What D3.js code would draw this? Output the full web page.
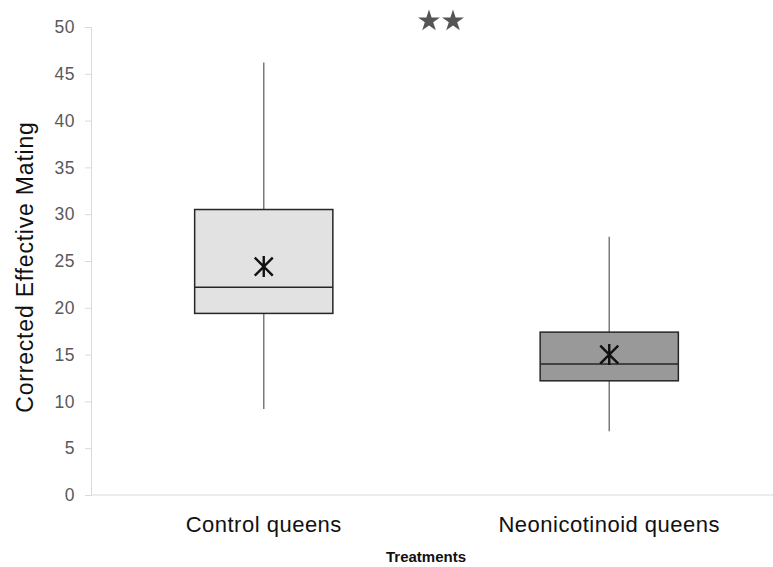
<!DOCTYPE html>
<html><head><meta charset="utf-8">
<script src="https://cdn.jsdelivr.net/npm/d3@7"></script>
<style>body{margin:0;background:#fff}svg{display:block}text{font-family:"Liberation Sans",Arial,sans-serif}</style>
</head><body>
<script>
const categories = ["Control queens", "Neonicotinoid queens"];
const whiskerLow = [9.2, 6.8];
const q1 = [19.4, 12.2];
const medians = [22.2, 14.0];
const q3 = [30.5, 17.4];
const whiskerHigh = [46.2, 27.6];
const means = [24.4, 15.0];
const fills = ["#e2e2e2", "#999999"];
const yTicks = [0,5,10,15,20,25,30,35,40,45,50];

const W = 773, H = 567;
const svg = d3.select("body").append("svg").attr("width", W).attr("height", H);
const y = d3.scaleLinear().domain([0, 50]).range([495, 27]);
const x = d3.scaleBand().domain(categories).range([91, 782]).paddingInner(0.6).paddingOuter(0.3);

// y axis
const ya = svg.append("g").attr("transform", "translate(91,0)")
  .call(d3.axisLeft(y).tickValues(yTicks).tickSize(6).tickPadding(10));
ya.selectAll("path,line").attr("stroke", "#d9d9d9");
ya.selectAll("text").attr("font-size", 17.5).attr("letter-spacing", 0.5).attr("fill", "#595959").attr("font-family", "Liberation Sans, Arial, sans-serif");
// x axis baseline
svg.append("line").attr("x1", 91).attr("x2", W).attr("y1", y(0)).attr("y2", y(0)).attr("stroke", "#d9d9d9");

const data = categories.map((c, i) => ({c, lo: whiskerLow[i], q1: q1[i], med: medians[i], q3: q3[i], hi: whiskerHigh[i], mean: means[i], fill: fills[i]}));
const g = svg.selectAll(".box").data(data).enter().append("g");
const cx = d => x(d.c) + x.bandwidth() / 2;
g.append("line").attr("x1", cx).attr("x2", cx).attr("y1", d => y(d.hi)).attr("y2", d => y(d.q3)).attr("stroke", "#7a7a7a").attr("stroke-width", 1.5);
g.append("line").attr("x1", cx).attr("x2", cx).attr("y1", d => y(d.q1)).attr("y2", d => y(d.lo)).attr("stroke", "#7a7a7a").attr("stroke-width", 1.5);
g.append("rect").attr("x", d => x(d.c)).attr("width", x.bandwidth())
  .attr("y", d => y(d.q3)).attr("height", d => y(d.q1) - y(d.q3))
  .attr("fill", d => d.fill).attr("stroke", "#262626").attr("stroke-width", 1.5);
g.append("line").attr("x1", d => x(d.c)).attr("x2", d => x(d.c) + x.bandwidth())
  .attr("y1", d => y(d.med)).attr("y2", d => y(d.med)).attr("stroke", "#262626").attr("stroke-width", 1.5);
// mean marker: X plus vertical line
g.append("path").attr("transform", d => `translate(${cx(d)},${y(d.mean)})`)
  .attr("d", "M-9,-9L9,9M-9,9L9,-9M0,-10.5L0,10.5").attr("stroke", "#111").attr("stroke-width", 2.4).attr("fill", "none");

// category labels
svg.selectAll(".cat").data(categories).enter().append("text")
  .attr("x", d => x(d) + x.bandwidth() / 2).attr("y", 532).attr("text-anchor", "middle")
  .attr("font-size", 22).attr("letter-spacing", 0.5).attr("fill", "#111").text(d => d);
svg.append("text").attr("x", 426).attr("y", 562).attr("text-anchor", "middle")
  .attr("font-size", 15).attr("font-weight", "bold").attr("fill", "#111").text("Treatments");
svg.append("text").attr("transform", "translate(33,267) rotate(-90)").attr("text-anchor", "middle")
  .attr("font-size", 23).attr("letter-spacing", 0.8).attr("fill", "#111").text("Corrected Effective Mating");

// significance stars
const star = d3.symbol().type(d3.symbolStar).size(150);
svg.selectAll(".star").data([429, 453]).enter().append("path")
  .attr("transform", d => `translate(${d},21)`).attr("d", star).attr("fill", "#555");
</script>
</body></html>
